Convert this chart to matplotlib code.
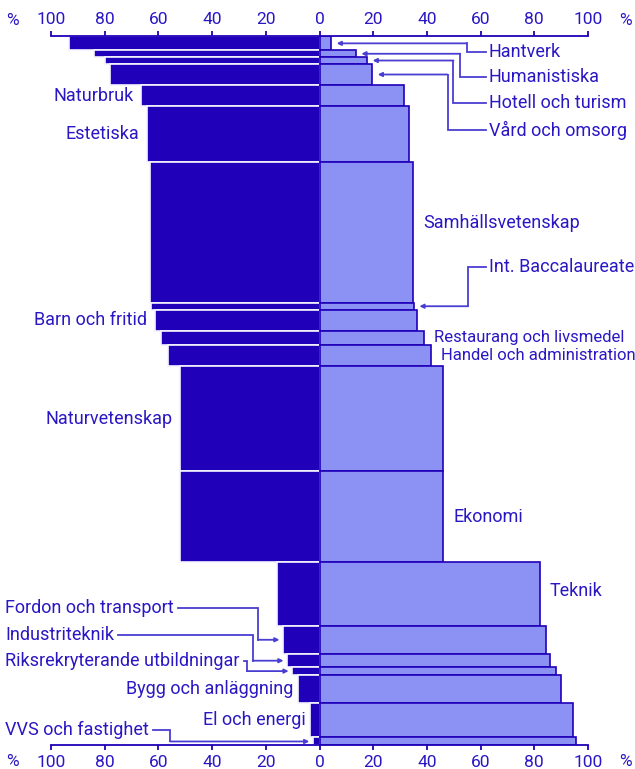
import numpy as np
import matplotlib
matplotlib.use("Agg")
import matplotlib.pyplot as plt

plt.rcParams['font.family'] = ['Roboto', 'DejaVu Sans']

# ---- data -------------------------------------------------------------
program = ["Hantverk", "Humanistiska", "Hotell och turism", "Vård och omsorg",
           "Naturbruk", "Estetiska", "Samhällsvetenskap", "Int. Baccalaureate",
           "Barn och fritid", "Restaurang och livsmedel", "Handel och administration",
           "Naturvetenskap", "Ekonomi", "Teknik", "Fordon och transport",
           "Industriteknik", "Riksrekryterande utbildningar", "Bygg och anläggning",
           "El och energi", "VVS och fastighet"]
kvinnor = [93.3, 84.0, 80.0, 78.0, 66.3, 64.3, 63.0, 62.9, 61.4, 59.2, 56.5,
           52.0, 51.9, 15.8, 13.5, 12.0, 10.1, 7.9, 3.4, 2.4]
man = [4.4, 13.6, 17.8, 19.7, 31.4, 33.4, 34.9, 35.2, 36.4, 38.9, 41.4,
       46.1, 46.1, 82.0, 84.5, 86.0, 88.0, 90.0, 94.5, 95.5]
antal = [13.8, 7.0, 6.5, 21.5, 21.2, 55.6, 140.5, 7.2, 21.0, 14.0, 21.5,
         104.5, 91.5, 63.2, 28.3, 13.5, 7.3, 28.7, 34.0, 8.0]
ticks = [-100, -80, -60, -40, -20, 0, 20, 40, 60, 80, 100]

# ---- style --------------------------------------------------------------
DARK = '#2000b8'
LIGHT = '#8c92f4'
TXT = '#2a17c4'
LINE = '#4a3ed2'
FS = 13

antal = np.array(antal)
top = np.concatenate([[0], np.cumsum(antal)[:-1]])
mid = top + antal / 2
total = antal.sum()

fig = plt.figure(figsize=(6.35, 7.69), dpi=100)
ax = fig.add_axes([0.0803, 0.0306, 0.8457, 0.922])

ax.barh(mid, [-k for k in kvinnor], height=antal, color=DARK,
        edgecolor='#f4f4ff', linewidth=1.2)
ax.barh(mid, man, height=antal, color=LIGHT, edgecolor=DARK, linewidth=1.2)

ax.set_xlim(-100, 100)
ax.set_ylim(total, 0)
ax.set_yticks([])
for s in ['left', 'right']:
    ax.spines[s].set_visible(False)
for s in ['top', 'bottom']:
    ax.spines[s].set_color(DARK)
    ax.spines[s].set_linewidth(1.3)
ax.set_xticks(ticks)
ax.set_xticklabels([str(abs(t)) for t in ticks])
ax.tick_params(axis='x', top=True, labeltop=True, bottom=True, labelbottom=True,
               colors=DARK, labelcolor=TXT, labelsize=12.5, length=3.6,
               width=1.3, pad=3.2)
# % signs at both ends of both axes
for ypos in [1.022, -0.022]:
    for xp in [-114.5, 114]:
        ax.text(xp, ypos, '%', transform=ax.get_xaxis_transform(),
                ha='center', va='center', fontsize=12.5, color=TXT)

# ---- labels -------------------------------------------------------------
left_plain = ["Naturbruk", "Estetiska", "Barn och fritid", "Naturvetenskap",
              "Bygg och anläggning", "El och energi"]
# right side labels: vertical shift, font size
right_plain = {"Samhällsvetenskap": (-9, FS), "Restaurang och livsmedel": (0, 12),
               "Handel och administration": (0, 12), "Ekonomi": (0, FS),
               "Teknik": (-3, FS)}
# connectors: vertical line x, label y
right_conn = {"Hantverk": (54.8, 15.3), "Humanistiska": (52.4, 40.5),
              "Hotell och turism": (49.9, 66.5), "Vård och omsorg": (47.7, 94.0),
              "Int. Baccalaureate": (55.3, 230.2)}
left_conn = {"Fordon och transport": (-22.8, 571.5), "Industriteknik": (-24.9, 598.0),
             "Riksrekryterande utbildningar": (-27.0, 624.5),
             "VVS och fastighet": (-55.6, 693.5)}

def arrow(x0, x1, y):
    ax.annotate('', xy=(x1, y), xytext=(x0, y),
                arrowprops=dict(arrowstyle='-|>', color=LINE, lw=1.3,
                                mutation_scale=6, shrinkA=0, shrinkB=0))

left_texts = []
for i, name in enumerate(program):
    if name in left_plain:
        gap = 2.8 if kvinnor[i] > 20 else 1.8
        ax.text(-kvinnor[i] - gap, mid[i], name, ha='right', va='center',
                fontsize=FS, color=TXT)
    elif name in right_plain:
        dy, fs = right_plain[name]
        ax.text(man[i] + 3.8, mid[i] + dy, name, ha='left',
                va='center', fontsize=fs, color=TXT, clip_on=False)
    elif name in right_conn:
        vx, ly = right_conn[name]
        ax.text(63, ly, name, ha='left', va='center', fontsize=FS, color=TXT)
        ax.plot([61.9, vx, vx], [ly, ly, mid[i]], color=LINE, lw=1.3,
                solid_joinstyle='miter')
        arrow(vx, man[i] + 2.0, mid[i])
    elif name in left_conn:
        vx, ly = left_conn[name]
        t = ax.text(-117.1, ly, name, ha='left', va='center', fontsize=FS,
                    color=TXT)
        left_texts.append((t, i, vx, ly))

fig.canvas.draw()
inv = ax.transData.inverted()
for t, i, vx, ly in left_texts:
    bb = t.get_window_extent()
    x_start = inv.transform((bb.x1 + 4, 0))[0]
    ax.plot([x_start, vx, vx], [ly, ly, mid[i]], color=LINE, lw=1.3,
            clip_on=False, solid_joinstyle='miter')
    arrow(vx, -kvinnor[i] - 1.4, mid[i])

fig.savefig('out.png', dpi=100)
